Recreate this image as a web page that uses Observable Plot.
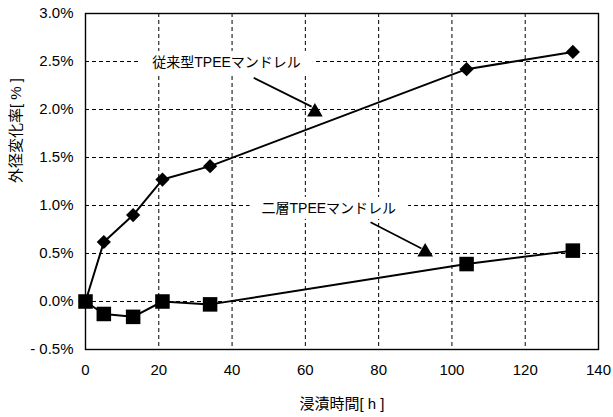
<!DOCTYPE html>
<html><head><meta charset="utf-8">
<script src="https://cdn.jsdelivr.net/npm/d3@7"></script>
<script src="https://cdn.jsdelivr.net/npm/@observablehq/plot@0.6"></script>
<style>
html,body{margin:0;padding:0;background:#fff;}
</style>
</head><body>
<div id="chart"></div>
<script>
// ---- data ----
const hours = [0, 5, 13, 21, 34, 104, 133];
const conventional = [0.00, 0.62, 0.90, 1.27, 1.41, 2.42, 2.60];
const twoLayer = [0.00, -0.13, -0.16, 0.00, -0.03, 0.39, 0.53];
const seriesNames = ["従来型TPEEマンドレル", "二層TPEEマンドレル"];
// annotation anchors (data units)
const labelX = [38.5, 66.4];
const labelY = [2.49, 0.97];
const arrowX1 = [45.9, 77.8];
const arrowY1 = [2.33, 0.826];
const arrowX2 = [61.7, 91.7];
const arrowY2 = [2.03, 0.552];
const headX = [62.6, 92.7];
const headY = [1.975, 0.516];
const xTicks = [0, 20, 40, 60, 80, 100, 120, 140];
const yTicks = [-0.5, 0.0, 0.5, 1.0, 1.5, 2.0, 2.5, 3.0];
const xGrid = [20, 40, 60, 80, 100, 120];
const yGrid = [0.0, 0.5, 1.0, 1.5, 2.0, 2.5];
const xTitle = "浸漬時間[ h ]";
const yTitle = "外径変化率[ % ]";

const convData = hours.map((h, i) => ({h, v: conventional[i]}));
const twoData = hours.map((h, i) => ({h, v: twoLayer[i]}));
const annos = seriesNames.map((name, i) => ({
  name, lx: labelX[i], ly: labelY[i],
  x1: arrowX1[i], y1: arrowY1[i], x2: arrowX2[i], y2: arrowY2[i],
  hx: headX[i], hy: headY[i]
}));

const fmt = d => d < 0 ? `- ${Math.abs(d).toFixed(1)}%` : `${d.toFixed(1)}%`;

const plot = Plot.plot({
  width: 613,
  height: 417,
  marginLeft: 85,
  marginRight: 15,
  marginTop: 13,
  marginBottom: 68,
  style: {
    fontFamily: "'Liberation Sans', 'Noto Sans CJK JP', sans-serif",
    fontSize: "15px",
    color: "black",
    background: "white"
  },
  x: {domain: [0, 140]},
  y: {domain: [-0.5, 3.0]},
  marks: [
    Plot.gridX(xGrid, {stroke: "black", strokeOpacity: 1, strokeWidth: 1, strokeDasharray: "4,3"}),
    Plot.gridY(yGrid, {stroke: "black", strokeOpacity: 1, strokeWidth: 1, strokeDasharray: "4,3"}),
    Plot.frame({stroke: "black", strokeWidth: 1.4}),
    Plot.axisX({ticks: xTicks, tickSize: 0, tickPadding: 15, label: null, fontSize: 15}),
    Plot.axisY({ticks: yTicks, tickSize: 0, tickPadding: 12, tickFormat: fmt, label: null, fontSize: 15}),
    Plot.text([xTitle], {text: d => d, frameAnchor: "bottom", dy: 59, fontSize: 15, fill: "black"}),
    Plot.text([yTitle], {text: d => d, frameAnchor: "left", rotate: -90, dx: -69, dy: 1.5, fontSize: 15, fill: "black"}),
    Plot.line(convData, {x: "h", y: "v", stroke: "black", strokeWidth: 2}),
    Plot.line(twoData, {x: "h", y: "v", stroke: "black", strokeWidth: 2}),
    Plot.dot(convData, {x: "h", y: "v", symbol: "diamond2", r: 6.4, fill: "black", stroke: "none"}),
    Plot.dot(twoData, {x: "h", y: "v", symbol: "square", r: 8.2, fill: "black", stroke: "none"}),
    Plot.link(annos, {x1: "x1", y1: "y1", x2: "x2", y2: "y2", stroke: "black", strokeWidth: 1.7}),
    Plot.dot(annos, {x: "hx", y: "hy", symbol: "triangle", r: 5.8, fill: "black", stroke: "none"}),
    Plot.text(annos, {x: "lx", y: "ly", text: "name", fontSize: 14, fill: "black"})
  ]
});

document.getElementById("chart").append(plot);

// white boxes behind the annotation labels (hide gridlines like the original)
d3.select(plot).selectAll("text").each(function() {
  if (!seriesNames.includes(this.textContent)) return;
  const b = this.getBBox();
  const rect = document.createElementNS("http://www.w3.org/2000/svg", "rect");
  rect.setAttribute("x", b.x - 12);
  rect.setAttribute("y", b.y - 3);
  rect.setAttribute("width", b.width + 24);
  rect.setAttribute("height", b.height + 6);
  rect.setAttribute("fill", "white");
  const t = this.getAttribute("transform");
  if (t) rect.setAttribute("transform", t);
  this.parentNode.insertBefore(rect, this);
});
</script>
</body></html>
